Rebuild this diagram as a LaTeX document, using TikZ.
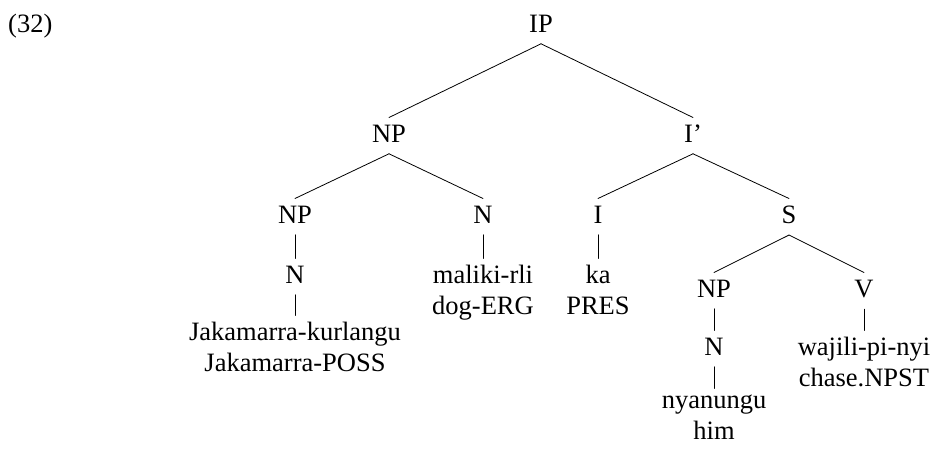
\documentclass[tikz,border=0pt]{standalone}
\usepackage{fontspec}
\setmainfont{Liberation Serif}
\begin{document}
\begin{tikzpicture}[x=1pt,y=-1pt,
  lab/.style={anchor=north, inner sep=0pt, align=center,
    font=\fontsize{26.5}{31}\selectfont, execute at begin node=\vphantom{Ak}},
  branch/.style={line width=0.8pt, line cap=round}]
\useasboundingbox (0,0) rectangle (932,448);

% example number
\node[anchor=base west, inner sep=0pt, font=\fontsize{26.5}{31}\selectfont] (num) at (8,32) {(32)};

% tree labels
\node[lab] (ip)   at (541,14)  {IP};
\node[lab] (np)   at (389,124) {NP};
\node[lab] (ibar) at (693,124) {I'};
\node[lab] (npa)  at (295,205) {NP};
\node[lab] (na)   at (483,205) {N};
\node[lab] (i)    at (598,205) {I};
\node[lab] (s)    at (789,205) {S};
\node[lab] (nb)   at (295,265) {N};
\node[lab] (dog)  at (483,265) {maliki-rli\\dog-ERG};
\node[lab] (ka)   at (598,265) {ka\\PRES};
\node[lab] (npc)  at (714,279) {NP};
\node[lab] (v)    at (864,279) {V};
\node[lab] (jak)  at (295,322) {Jakamarra-kurlangu\\Jakamarra-POSS};
\node[lab] (nc)   at (714,337) {N};
\node[lab] (chase) at (864,337) {wajili-pi-nyi\\chase.NPST};
\node[lab] (him)  at (714,395) {nyanungu\\him};

% branches
\foreach \p/\c in {ip/np, ip/ibar, np/npa, np/na, ibar/i, ibar/s,
                   npa/nb, na/dog, i/ka, s/npc, s/v,
                   nb/jak, npc/nc, v/chase, nc/him}
  \draw[branch] ([yshift=-11pt]\p.south) -- ([yshift=6.5pt]\c.north);
\end{tikzpicture}
\end{document}
